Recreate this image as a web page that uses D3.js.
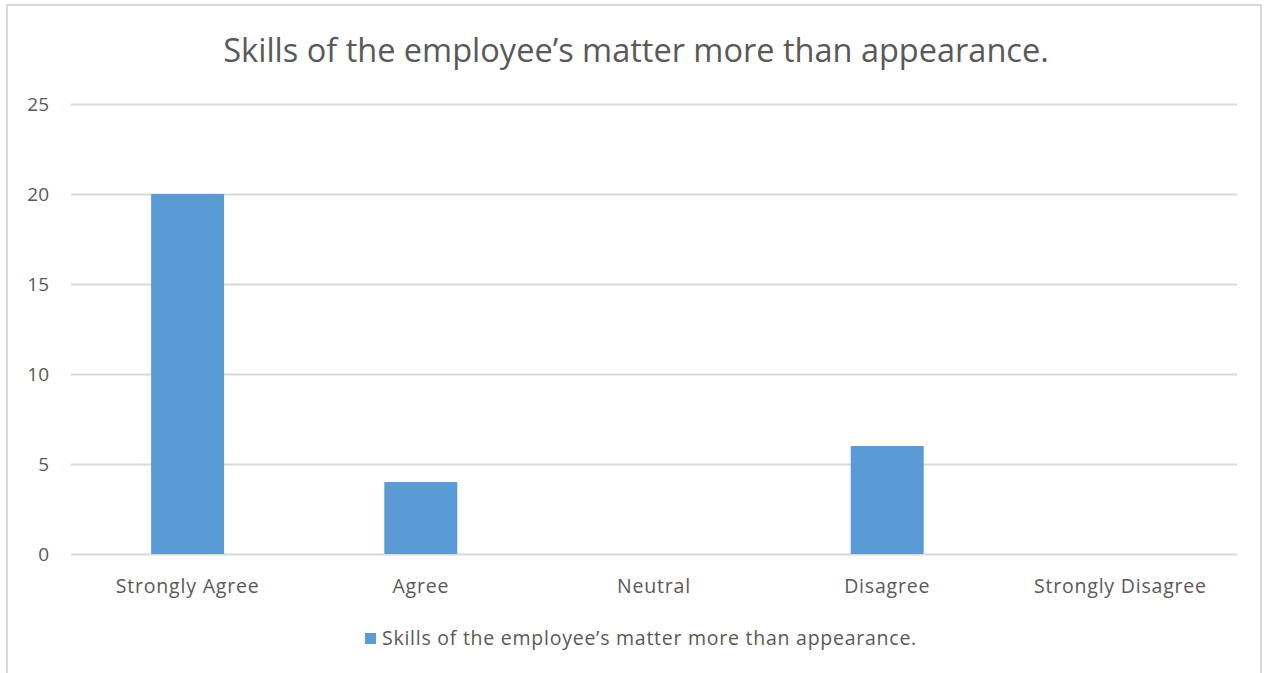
<!DOCTYPE html>
<html>
<head>
<meta charset="utf-8">
<script src="https://cdn.jsdelivr.net/npm/d3@7"></script>
<style>
	body { margin:0; background:#fff; overflow:hidden; }
	svg { display:block; }
	svg text { font-family: "Open Sans", sans-serif; fill:#595959; }
</style>
</head>
<body>
<svg id="chart" width="1265" height="673"></svg>
<script>
// Chart data
const categories = ['Strongly Agree','Agree','Neutral','Disagree','Strongly Disagree'];
const values = [20, 4, 0, 6, 0];
const yTicks = [0, 5, 10, 15, 20, 25];
const title = 'Skills of the employee\u2019s matter more than appearance.';
const seriesName = 'Skills of the employee\u2019s matter more than appearance.';

const svg = d3.select('#chart');
const W = +svg.attr('width');
const H = +svg.attr('height');
const margin = {top:104, right:28, bottom:119, left:71};
const innerWidth = W - margin.left - margin.right;
const innerHeight = H - margin.top - margin.bottom;
const barColor = '#5b9bd5';
const fontFamily = '"Open Sans", sans-serif';

// outer frame of the chart: top, left and right edges (bottom edge is off-picture)
svg.append('path')
	.attr('d',`M7,${H} V5 H1261 V${H}`)
	.attr('fill','none')
	.attr('stroke','#d9d9d9')
	.attr('stroke-width',2);

const data = categories.map((c,i)=>({cat:c, value:values[i]}));

const xScale = d3.scaleBand()
	.domain(categories)
	.range([0,innerWidth])
	.paddingInner(0.687)
	.paddingOuter(0.3435);

const yScale = d3.scaleLinear()
	.domain([0,25])
	.range([innerHeight,0]);

const g = svg.append('g')
	.attr('transform',`translate(${margin.left},${margin.top})`);

// y axis with gridlines
const yAxis = d3.axisLeft(yScale)
	.tickValues(yTicks)
	.tickSize(-innerWidth)
	.tickPadding(22);
const yAxisG = g.append('g').call(yAxis);
yAxisG.select('.domain').remove();
yAxisG.selectAll('line').attr('stroke','#d9d9d9').attr('stroke-width',2);
yAxisG.selectAll('text')
	.attr('font-size',19)
	.attr('fill','#595959')
	.style('font-family',fontFamily);

// bars
g.selectAll('rect.bar').data(data)
	.enter().append('rect')
	.attr('class','bar')
	.attr('x',d=>xScale(d.cat))
	.attr('y',d=>yScale(d.value))
	.attr('width',xScale.bandwidth())
	.attr('height',d=>innerHeight - yScale(d.value))
	.attr('fill',barColor);

// x axis
const xAxis = d3.axisBottom(xScale)
	.tickSize(0)
	.tickPadding(25);
const xAxisG = g.append('g')
	.attr('transform',`translate(0,${innerHeight})`)
	.call(xAxis);
xAxisG.select('.domain').remove();
xAxisG.selectAll('text')
	.attr('font-size',19.5)
	.attr('letter-spacing',0.8)
	.attr('fill','#595959')
	.style('font-family',fontFamily);

// title
svg.append('text')
	.attr('x',636)
	.attr('y',62)
	.attr('text-anchor','middle')
	.attr('font-size',32.5)
	.text(title);

// legend
const legend = svg.append('g')
	.attr('transform','translate(365,633)');
legend.append('rect')
	.attr('width',11).attr('height',11)
	.attr('fill',barColor);
legend.append('text')
	.attr('x',17)
	.attr('y',12)
	.attr('font-size',19.5)
	.attr('letter-spacing',0.75)
	.text(seriesName);
</script>
</body>
</html>
